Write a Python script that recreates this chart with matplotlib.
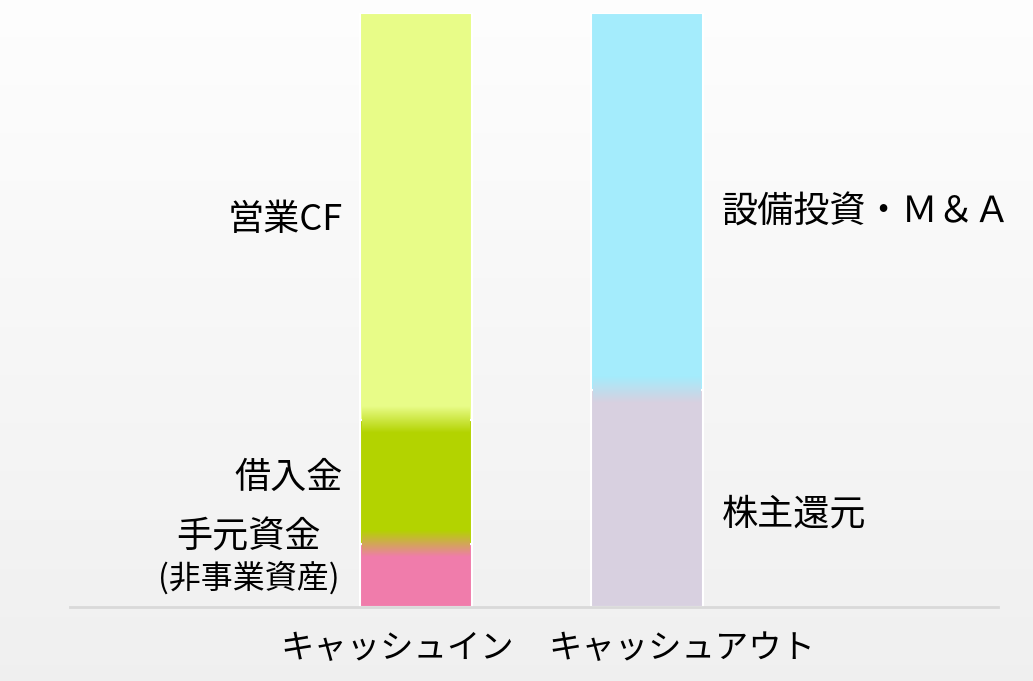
import numpy as np
import matplotlib.pyplot as plt
from matplotlib.colors import to_rgb
from matplotlib.transforms import blended_transform_factory

plt.rcParams['font.family'] = ['Noto Sans CJK JP', 'DejaVu Sans']

# data (share of each column, %)
columns = ['キャッシュイン', 'キャッシュアウト']
in_labels = ['手元資金', '借入金', '営業CF']
in_values = [10.5, 21.0, 68.5]
in_colors = ['#f07cab', '#b3d300', '#e8fc88']
out_labels = ['株主還元', '設備投資・Ｍ＆Ａ']
out_values = [36.5, 63.5]
out_colors = ['#d8d0e0', '#a4ecfc']

fig = plt.figure(figsize=(10.33, 6.81), dpi=100)

# soft grey background gradient
bg = fig.add_axes([0, 0, 1, 1])
grad = np.linspace(0.995, 0.94, 256).reshape(-1, 1)
bg.imshow(np.dstack([grad, grad, grad]), aspect='auto', extent=[0, 1, 0, 1])
bg.axis('off')

ax = fig.add_axes([0.068, 0.109, 0.898, 0.872])
ax.patch.set_alpha(0)
width = 0.485
blend = 2.2


def stacked(x, values, colors):
    bottom = 0
    for v, c in zip(values, colors):
        ax.bar(x, v, width, bottom=bottom, color=c, edgecolor='white', linewidth=1.5, zorder=2)
        bottom += v
    # smooth colour transitions at the segment boundaries
    bottom = 0
    for i in range(len(values) - 1):
        bottom += values[i]
        c0 = np.array(to_rgb(colors[i]))
        c1 = np.array(to_rgb(colors[i + 1]))
        t = np.linspace(0, 1, 64).reshape(-1, 1, 1)
        img = c0 * (1 - t) + c1 * t
        img = np.repeat(img, 2, axis=1)
        ax.imshow(img, aspect='auto', origin='lower', zorder=3,
                  extent=[x - width / 2 + 0.01, x + width / 2 - 0.01, bottom - blend, bottom + blend])


stacked(0, in_values, in_colors)
stacked(1, out_values, out_colors)

ax.set_xlim(-1.498, 2.52)
ax.set_ylim(0, 100)
for s in ['top', 'right', 'left']:
    ax.spines[s].set_visible(False)
ax.spines['bottom'].set_color('#d9d9d9')
ax.spines['bottom'].set_linewidth(2)
ax.set_xticks([])
ax.set_yticks([])

# segment labels
fs = 26
ax.text(-0.316, 65.2, in_labels[2], ha='right', va='center', fontsize=fs)
ax.text(-0.316, 21.7, in_labels[1], ha='right', va='center', fontsize=fs)
ax.text(-0.725, 11.6, in_labels[0], ha='center', va='center', fontsize=fs)
ax.text(-0.725, 4.9, '(非事業資産)', ha='center', va='center', fontsize=23)
ax.text(1.325, 66.3, out_labels[1], ha='left', va='center', fontsize=fs)
ax.text(1.325, 15.5, out_labels[0], ha='left', va='center', fontsize=fs)

# column names under the axis
tr = blended_transform_factory(ax.transData, ax.transAxes)
ax.text(-0.08, -0.07, columns[0], transform=tr, ha='center', va='center', fontsize=24)
ax.text(1.15, -0.07, columns[1], transform=tr, ha='center', va='center', fontsize=24)

fig.savefig('out.png', dpi=100)
